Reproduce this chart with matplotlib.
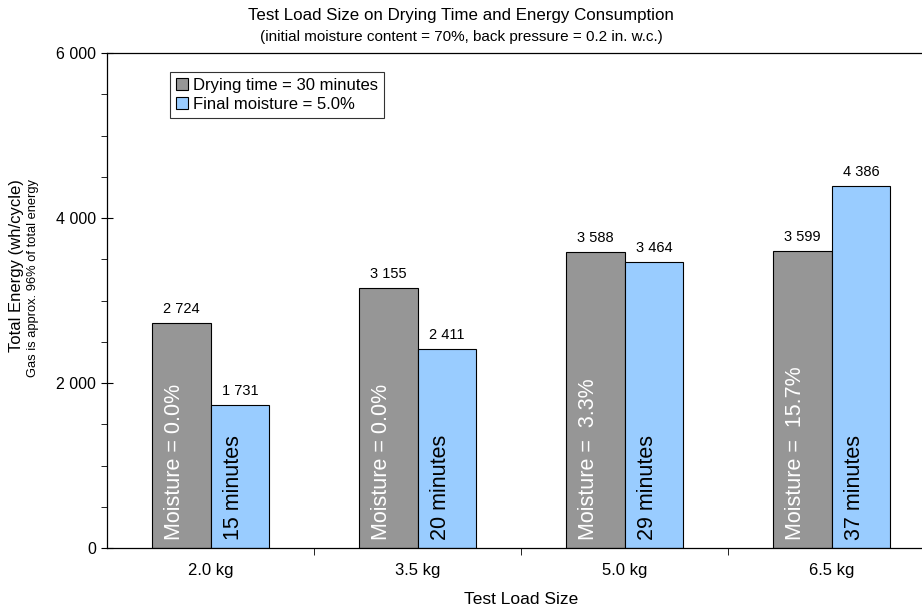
import matplotlib
matplotlib.use("Agg")
import matplotlib.pyplot as plt
import numpy as np
from matplotlib.ticker import FuncFormatter, MultipleLocator

plt.rcParams["font.family"] = ["Liberation Sans", "DejaVu Sans"]

loads = ["2.0 kg", "3.5 kg", "5.0 kg", "6.5 kg"]
energy_30min = [2724, 3155, 3588, 3599]
energy_5pct = [1731, 2411, 3464, 4386]
moisture_labels = ["Moisture = 0.0%", "Moisture = 0.0%", "Moisture =  3.3%", "Moisture =  15.7%"]
time_labels = ["15 minutes", "20 minutes", "29 minutes", "37 minutes"]

gray = "#969696"
blue = "#99CCFF"

fig = plt.figure(figsize=(9.22, 6.10), dpi=100)
ax = fig.add_axes([107 / 922, 62 / 610, 828 / 922, 495 / 610])

x = np.arange(len(loads))
w = 0.285
ax.bar(x - w / 2, energy_30min, w, color=gray, edgecolor="black", linewidth=0.8,
       label="Drying time = 30 minutes")
ax.bar(x + w / 2, energy_5pct, w, color=blue, edgecolor="black", linewidth=0.8,
       label="Final moisture = 5.0%")

fmt = lambda v: f"{v:,.0f}".replace(",", " ")
for xi, v in zip(x - w / 2, energy_30min):
    ax.annotate(fmt(v), (xi, v), xytext=(0, 5), textcoords="offset points",
                ha="center", va="bottom", fontsize=10.5)
for xi, v in zip(x + w / 2, energy_5pct):
    ax.annotate(fmt(v), (xi, v), xytext=(0, 5), textcoords="offset points",
                ha="center", va="bottom", fontsize=10.5)

# labels written up inside the bars
for xi, s in zip(x - w / 2, moisture_labels):
    ax.annotate(s, (xi, 0), xytext=(-5, 6), textcoords="offset points", rotation=90,
                ha="center", va="bottom", fontsize=15.5, color="white")
for xi, s in zip(x + w / 2, time_labels):
    ax.annotate(s, (xi, 0), xytext=(-5, 6), textcoords="offset points", rotation=90,
                ha="center", va="bottom", fontsize=15.5, color="black")

ax.set_xlim(-0.5, len(loads) - 0.5)
ax.set_ylim(0, 6000)
ax.yaxis.set_major_locator(MultipleLocator(2000))
ax.yaxis.set_minor_locator(MultipleLocator(500))
ax.yaxis.set_major_formatter(FuncFormatter(lambda v, p: fmt(v)))
ax.tick_params(axis="y", which="major", direction="inout", length=9, labelsize=11.5)
ax.tick_params(axis="y", which="minor", direction="out", length=4)

ax.set_xticks(x)
ax.set_xticklabels(loads, fontsize=12)
ax.tick_params(axis="x", which="major", length=0, pad=11)
ax.set_xticks(np.arange(0.5, len(loads) - 0.5), minor=True)
ax.tick_params(axis="x", which="minor", direction="out", length=5)

ax.spines["right"].set_visible(False)
for s in ["left", "bottom", "top"]:
    ax.spines[s].set_linewidth(0.9)

ax.set_xlabel("Test Load Size", fontsize=12.5, labelpad=10)

fig.text(0.5, 0.974, "Test Load Size on Drying Time and Energy Consumption",
         ha="center", va="center", fontsize=12.2)
fig.text(0.5, 0.939, "(initial moisture content = 70%, back pressure = 0.2 in. w.c.)",
         ha="center", va="center", fontsize=11)
fig.text(17 / 922, 0.564, "Total Energy (wh/cycle)", rotation=90,
         ha="center", va="center", fontsize=12)
fig.text(33 / 922, 0.544, "Gas is approx. 96% of total energy", rotation=90,
         ha="center", va="center", fontsize=9.3)

leg = ax.legend(loc="upper left", bbox_to_anchor=(63 / 828, 0.962), fontsize=12,
                frameon=True, fancybox=False, edgecolor="black", handlelength=0.75,
                handleheight=0.75, handletextpad=0.3, borderpad=0.35, labelspacing=0.25,
                borderaxespad=0)
leg.get_frame().set_linewidth(0.8)

fig.savefig("out.png", dpi=100)
